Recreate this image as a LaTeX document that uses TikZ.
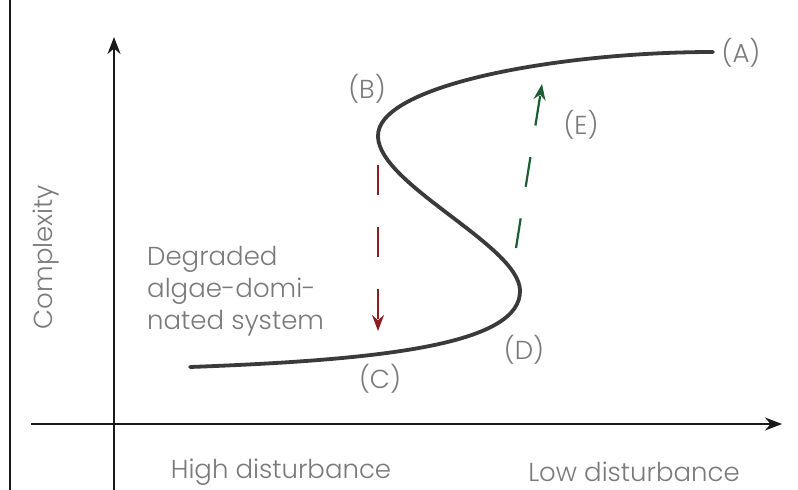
\documentclass[tikz,border=0pt]{standalone}
\usepackage{fontspec}
\setmainfont{Poppins Light}
\usetikzlibrary{arrows.meta}
\definecolor{txt}{HTML}{7A7A7A}
\definecolor{crv}{HTML}{3A3A3A}
\definecolor{redarr}{HTML}{8B1E22}
\definecolor{grnarr}{HTML}{1B5E32}
\begin{document}
\begin{tikzpicture}[x=1pt,y=-1pt,
  lbl/.style={text=txt,font=\fontsize{26}{30}\selectfont,inner sep=0pt},
  axis/.style={line width=2pt,draw=black!90,-{Stealth[length=17pt,width=13pt]}},
  frame/.style={line width=2pt,draw=black!90},
  scurve/.style={line width=3.8pt,draw=crv,line cap=round},
  redflow/.style={line width=2.2pt,draw=redarr,dash pattern=on 30pt off 32pt,-{Stealth[length=16pt,width=12pt]}},
  grnflow/.style={line width=2.2pt,draw=grnarr,dash pattern=on 30pt off 32pt,-{Stealth[length=16pt,width=12pt]}}]
\useasboundingbox (0,0) rectangle (798,490);
\fill[white] (0,0) rectangle (798,490);
% frame line on the left
\coordinate (ft) at (10,0);
\coordinate (fb) at (10,490);
\draw[frame] (ft) -- (fb);
% axes
\coordinate (yb) at (114,490);
\coordinate (yt) at (114,37);
\coordinate (xl) at (31,424);
\coordinate (xr) at (782,424);
\draw[axis] (yb) -- (yt);
\draw[axis] (xl) -- (xr);
% S curve
\coordinate (S) at (190,367);
\coordinate (Dn) at (520,290);
\coordinate (Bn) at (378,137);
\coordinate (Ae) at (713,52);
\draw[scurve] (S) .. controls (380,360) and (522,345) .. (Dn)
  .. controls (518,245) and (380,185) .. (Bn)
  .. controls (375,85) and (560,52) .. (Ae);
% transition arrows
\coordinate (r1) at (378,165);
\coordinate (r2) at (378,331);
\draw[redflow] (r1) -- (r2);
\coordinate (g1) at (516,248);
\coordinate (g2) at (542,84);
\draw[grnflow] (g1) -- (g2);
% labels
\node[lbl] (A) at (741,53) {(A)};
\node[lbl] (B) at (367,89) {(B)};
\node[lbl] (C) at (380,379) {(C)};
\node[lbl] (D) at (524,350) {(D)};
\node[lbl] (E) at (581,125) {(E)};
\node[lbl,rotate=90] (cx) at (46,257) {Complexity};
\node[lbl,align=left,anchor=north west,font=\fontsize{26}{32}\selectfont] (deg) at (147,246) {Degraded\\algae-domi-\\nated system};
\node[lbl] (hd) at (281,472) {High disturbance};
\node[lbl] (ld) at (634,472) {Low disturbance};
\end{tikzpicture}
\end{document}
